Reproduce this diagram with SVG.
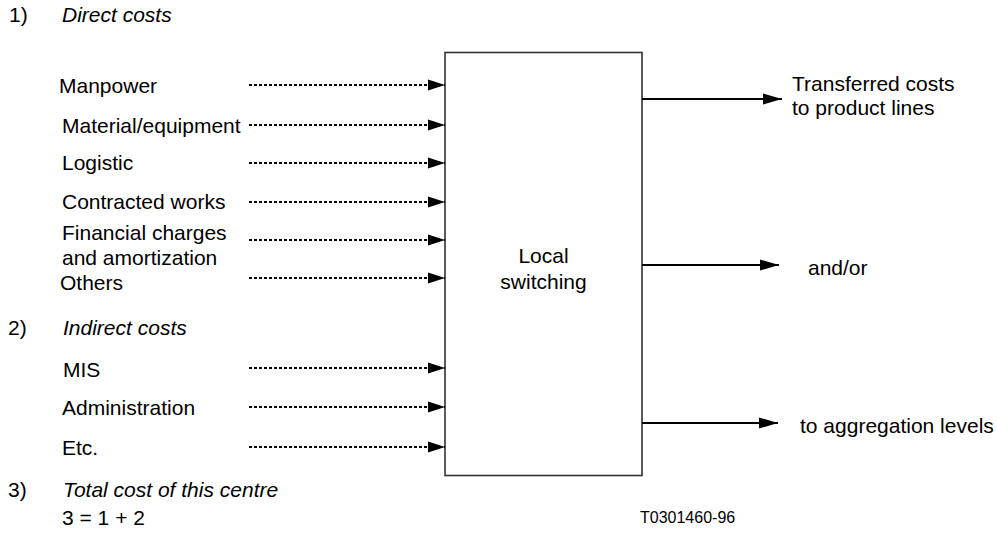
<svg xmlns="http://www.w3.org/2000/svg" width="997" height="535" viewBox="0 0 997 535">
<defs>
<marker id="ah" markerUnits="userSpaceOnUse" markerWidth="18" markerHeight="12" refX="17" refY="6" orient="auto">
<path d="M0,0.5 L17,6 L0,11.5 Z" fill="#000"/>
</marker>
<marker id="ah2" markerUnits="userSpaceOnUse" markerWidth="20" markerHeight="12" refX="19" refY="6" orient="auto">
<path d="M0,0.5 L19,6 L0,11.5 Z" fill="#000"/>
</marker>
<style>
text{font-family:"Liberation Sans",Arial,sans-serif;font-size:21px;fill:#000}
.it{font-style:italic}
.small{font-size:16px}
.in{stroke:#000;stroke-width:2;stroke-dasharray:3,2;fill:none}
.out{stroke:#000;stroke-width:2.2;fill:none}
.box{fill:#fff;stroke:#333;stroke-width:1.6}
</style>
</defs>
<rect width="997" height="535" fill="#fff"/>
<g id="headings">
<text x="9" y="22">1)</text><text x="62" y="22" class="it">Direct costs</text>
<text x="8" y="335">2)</text><text x="63" y="335" class="it">Indirect costs</text>
<text x="8" y="497">3)</text><text x="63" y="497" class="it">Total cost of this centre</text>
<text x="62" y="525">3 = 1 + 2</text>
</g>
<g id="inputs-labels">
<text x="59" y="93">Manpower</text>
<text x="62" y="133">Material/equipment</text>
<text x="62" y="170">Logistic</text>
<text x="62" y="209">Contracted works</text>
<text x="62" y="240">Financial charges</text>
<text x="62" y="265">and amortization</text>
<text x="60" y="290">Others</text>
<text x="63" y="377">MIS</text>
<text x="62" y="415">Administration</text>
<text x="62" y="455">Etc.</text>
</g>
<g id="local-switching">
<rect class="box" x="445" y="52.5" width="197" height="423"/>
<text x="543.5" y="263" text-anchor="middle">Local</text>
<text x="543.5" y="289" text-anchor="middle">switching</text>
</g>
<g id="outputs-labels">
<text x="792" y="91">Transferred costs</text>
<text x="792" y="115">to product lines</text>
<text x="808" y="275">and/or</text>
<text x="800" y="433">to aggregation levels</text>
</g>
<g id="connectors">
<line class="in" x1="249" y1="85" x2="445" y2="85" marker-end="url(#ah)"/>
<line class="in" x1="249" y1="125" x2="445" y2="125" marker-end="url(#ah)"/>
<line class="in" x1="249" y1="163" x2="445" y2="163" marker-end="url(#ah)"/>
<line class="in" x1="249" y1="202" x2="445" y2="202" marker-end="url(#ah)"/>
<line class="in" x1="249" y1="240" x2="445" y2="240" marker-end="url(#ah)"/>
<line class="in" x1="249" y1="278" x2="445" y2="278" marker-end="url(#ah)"/>
<line class="in" x1="249" y1="368" x2="445" y2="368" marker-end="url(#ah)"/>
<line class="in" x1="249" y1="407" x2="445" y2="407" marker-end="url(#ah)"/>
<line class="in" x1="249" y1="447" x2="445" y2="447" marker-end="url(#ah)"/>
<line class="out" x1="642" y1="99" x2="782" y2="99" marker-end="url(#ah2)"/>
<line class="out" x1="642" y1="265" x2="779" y2="265" marker-end="url(#ah2)"/>
<line class="out" x1="642" y1="423" x2="778" y2="423" marker-end="url(#ah2)"/>
</g>
<g id="figure-label">
<text x="640" y="523" class="small">T0301460-96</text>
</g>
</svg>
